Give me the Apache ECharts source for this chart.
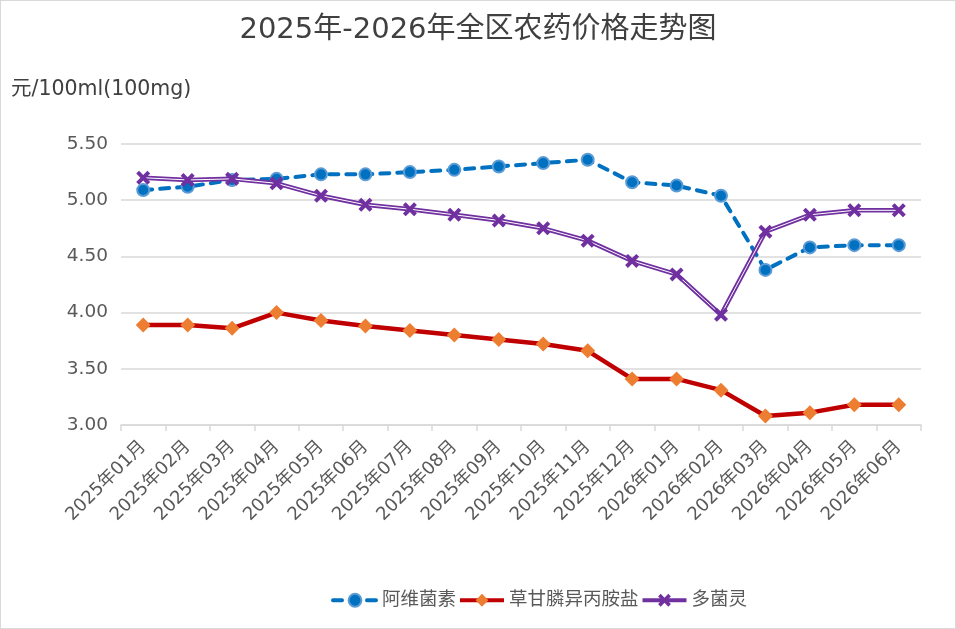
<!DOCTYPE html>
<html>
<head>
<meta charset="utf-8">
<script src="https://cdn.jsdelivr.net/npm/echarts@6/dist/echarts.min.js"></script>
<style>
  html, body { margin: 0; padding: 0; background: #fff; }
  #chart { width: 954px; height: 627px; border: 1px solid #d9d9d9; }
</style>
</head>
<body>
<div id="chart"></div>
<script>
const months = ['2025年01月', '2025年02月', '2025年03月', '2025年04月', '2025年05月', '2025年06月',
    '2025年07月', '2025年08月', '2025年09月', '2025年10月', '2025年11月', '2025年12月',
    '2026年01月', '2026年02月', '2026年03月', '2026年04月', '2026年05月', '2026年06月'];
const abamectin = [5.09, 5.12, 5.18, 5.19, 5.23, 5.23, 5.25, 5.27, 5.30, 5.33, 5.36, 5.16, 5.13, 5.04, 4.38, 4.58, 4.60, 4.60];
const glyphosate = [3.89, 3.89, 3.86, 4.00, 3.93, 3.88, 3.84, 3.80, 3.76, 3.72, 3.66, 3.41, 3.41, 3.31, 3.08, 3.11, 3.18, 3.18];
const carbendazim = [5.20, 5.18, 5.19, 5.15, 5.04, 4.96, 4.92, 4.87, 4.82, 4.75, 4.64, 4.46, 4.34, 3.98, 4.72, 4.87, 4.91, 4.91];
const seriesNames = ['阿维菌素', '草甘膦异丙胺盐', '多菌灵'];

const font = "'DejaVu Sans', 'Noto Sans CJK SC', sans-serif";
const crossIcon = 'path://M2,0 L5,3 L8,0 L10,2 L7,5 L10,8 L8,10 L5,7 L2,10 L0,8 L3,5 L0,2 Z';

const chart = echarts.init(document.getElementById('chart'));
chart.setOption({
    animation: false,
    textStyle: { fontFamily: font },
    title: {
        text: '2025年-2026年全区农药价格走势图',
        left: 'center',
        top: 10,
        textStyle: { fontSize: 29, fontWeight: 'normal', color: '#404040', fontFamily: font }
    },
    legend: {
        data: seriesNames,
        top: 585,
        left: 325,
        itemWidth: 44,
        itemHeight: 16,
        itemGap: 2,
        lineStyle: { width: 4 },
        textStyle: { fontSize: 18.5, color: '#595959', fontFamily: font }
    },
    grid: { left: 120, right: 34, top: 143, bottom: 203 },
    xAxis: {
        type: 'category',
        data: months,
        boundaryGap: true,
        axisLine: { lineStyle: { color: '#d9d9d9', width: 1.5 } },
        axisTick: { show: true, length: 6, lineStyle: { color: '#d9d9d9', width: 1.5 } },
        axisLabel: { rotate: 45, interval: 0, fontSize: 18, color: '#595959', margin: 19, fontFamily: font }
    },
    yAxis: {
        type: 'value',
        min: 3,
        max: 5.5,
        interval: 0.5,
        name: '元/100ml(100mg)',
        nameLocation: 'end',
        nameGap: 0,
        nameTextStyle: { fontSize: 20.5, color: '#404040', align: 'left', padding: [0, 0, 44, -110], fontFamily: font },
        axisLine: { show: false },
        axisTick: { show: false },
        axisLabel: { fontSize: 18.5, color: '#595959', margin: 13, formatter: v => v.toFixed(2), fontFamily: font },
        splitLine: { lineStyle: { color: '#d9d9d9', width: 1.5 } }
    },
    series: [
        {
            name: seriesNames[0],
            type: 'line',
            data: abamectin,
            symbol: 'circle',
            symbolSize: 12,
            z: 3,
            lineStyle: { color: '#0070C0', width: 4, type: [9, 8], cap: 'round' },
            itemStyle: { color: '#0070C0', borderColor: '#5B9BD5', borderWidth: 2 }
        },
        {
            name: seriesNames[1],
            type: 'line',
            data: glyphosate,
            symbol: 'diamond',
            symbolSize: 15,
            z: 2,
            lineStyle: { color: '#C00000', width: 4.5 },
            itemStyle: { color: '#ED7D31', borderColor: '#ED7D31', borderWidth: 0 }
        },
        {
            name: seriesNames[2],
            type: 'line',
            data: carbendazim,
            symbol: crossIcon,
            symbolSize: 14,
            z: 4,
            lineStyle: { color: '#7030A0', width: 4.5 },
            itemStyle: { color: '#7030A0' }
        },
        {
            name: seriesNames[2] + '_inner',
            type: 'line',
            data: carbendazim,
            symbol: 'none',
            silent: true,
            z: 4,
            lineStyle: { color: '#ffffff', width: 1 }
        }
    ]
});
</script>
</body>
</html>
